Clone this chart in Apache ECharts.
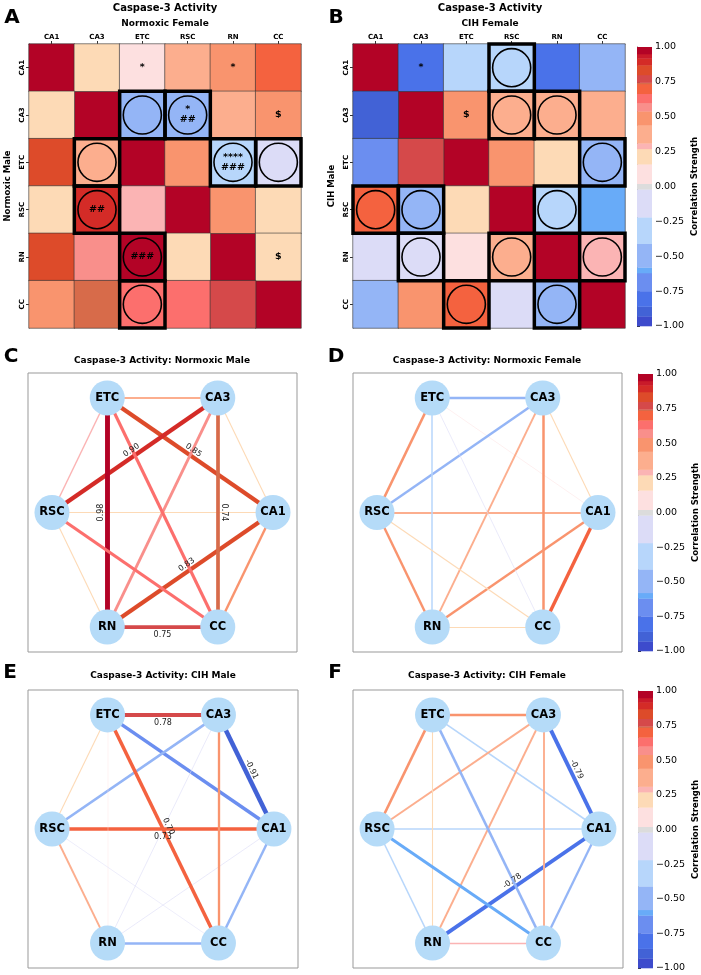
<!DOCTYPE html>
<html><head><meta charset="utf-8">
<script src="https://cdn.jsdelivr.net/npm/echarts@6/dist/echarts.min.js"></script>
<style>html,body{margin:0;padding:0;background:#fff}#c{width:701px;height:975px}</style>
</head><body><div id="c"></div>
<script>
// ---------------- DATA ----------------
const regions = ['CA1', 'CA3', 'ETC', 'RSC', 'RN', 'CC'];
const pairs = [
  ['CA1','CA3'], ['CA1','ETC'], ['CA1','RSC'], ['CA1','RN'], ['CA1','CC'],
  ['CA3','ETC'], ['CA3','RSC'], ['CA3','RN'], ['CA3','CC'],
  ['ETC','RSC'], ['ETC','RN'], ['ETC','CC'],
  ['RSC','RN'], ['RSC','CC'],
  ['RN','CC']
];
const normoxicMale   = [0.22, 0.85, 0.20, 0.83, 0.48, 0.36, 0.90, 0.57, 0.74, 0.29, 0.98, 0.62, 0.22, 0.63, 0.75];
const normoxicFemale = [0.22, 0.10, 0.36, 0.48, 0.68, -0.48, -0.48, 0.36, 0.50, 0.52, -0.30, -0.12, 0.48, 0.22, 0.22];
const cihMale        = [-0.91, -0.68, 0.73, -0.12, -0.48, 0.78, -0.53, -0.12, 0.47, 0.22, 0.08, 0.70, 0.38, -0.10, -0.53];
const cihFemale      = [-0.79, -0.32, -0.30, -0.78, -0.45, 0.47, 0.38, 0.40, 0.38, 0.52, 0.22, -0.50, -0.30, -0.60, 0.29];
const normoxicCircled = [['CA3','ETC'], ['CA3','RSC'], ['ETC','RN'], ['ETC','CC']];
const cihCircled      = [['CA1','RSC'], ['CA3','RSC'], ['CA3','RN'], ['ETC','CC'], ['RSC','RN'], ['RN','CC']];
const normoxicFemaleMarks = [['CA1','ETC','*'], ['CA1','RN','*'], ['CA3','RSC','*\n##'], ['CA3','CC','$'], ['ETC','RN','****\n###'], ['RN','CC','$']];
const normoxicMaleMarks   = [['CA3','RSC','##'], ['ETC','RN','###']];
const cihFemaleMarks      = [['CA1','CA3','*'], ['CA3','ETC','$']];
const cihMaleMarks        = [];
const colorbarTicks = [-1, -0.75, -0.5, -0.25, 0, 0.25, 0.5, 0.75, 1];
const labelThreshold = 0.7;

// ---------------- STYLE ----------------
const FONT = 'DejaVu Sans';
const cmap = [
  [-1.01, -0.93, '#3d4bcc'],
  [-0.93, -0.86, '#4262d6'],
  [-0.86, -0.75, '#4a72e9'],
  [-0.75, -0.62, '#6b8ef0'],
  [-0.62, -0.58, '#68abf8'],
  [-0.58, -0.41, '#94b5f6'],
  [-0.41, -0.22, '#b7d6fb'],
  [-0.22, -0.02, '#dcdcf7'],
  [-0.02, 0.02, '#dcdcdc'],
  [0.02, 0.16, '#fde0e0'],
  [0.16, 0.27, '#fddab6'],
  [0.27, 0.31, '#fbb4b4'],
  [0.31, 0.44, '#fcae8e'],
  [0.44, 0.54, '#f9946e'],
  [0.54, 0.60, '#f98f8b'],
  [0.60, 0.665, '#fc6f6d'],
  [0.665, 0.735, '#f4623f'],
  [0.735, 0.745, '#d76b4a'],
  [0.745, 0.80, '#d5494a'],
  [0.80, 0.87, '#dd4b2a'],
  [0.87, 0.92, '#d42b27'],
  [0.92, 0.95, '#c91a2a'],
  [0.95, 1.01, '#b30326']
];
function colorOf(v) {
  for (const [lo, hi, c] of cmap) if (v >= lo && v < hi) return c;
  return cmap[cmap.length - 1][2];
}
const idx = r => regions.indexOf(r);
const nodeAngle = i => i * Math.PI / 3;

const L = {
  heatA: {left: 29, top: 44, width: 272, height: 284},
  heatB: {left: 353, top: 44, width: 272, height: 284},
  cbB:   {left: 637, top: 47, width: 15, height: 279},
  netC:  {left: 28, top: 373, width: 269, height: 279},
  netD:  {left: 353, top: 373, width: 269, height: 279},
  cbD:   {left: 638, top: 374, width: 15, height: 277},
  netE:  {left: 28, top: 690, width: 270, height: 278},
  netF:  {left: 353, top: 690, width: 270, height: 278},
  cbF:   {left: 638, top: 691, width: 15, height: 277}
};

// ---------------- BUILD ----------------
function heatData(upperVals, lowerVals) {
  const d = regions.map((r, i) => [i, i, 1]);
  pairs.forEach((p, k) => {
    const i = idx(p[0]), j = idx(p[1]);
    d.push([j, i, upperVals[k]]);
    d.push([i, j, lowerVals[k]]);
  });
  return d;
}
function overlayItems(circled, upperMarks, lowerMarks) {
  const m = {};
  const key = (x, y) => x + ',' + y;
  const get = (x, y) => (m[key(x, y)] = m[key(x, y)] || {x, y, circled: false, text: ''});
  circled.forEach(([a, b]) => { const i = idx(a), j = idx(b); get(j, i).circled = true; get(i, j).circled = true; });
  upperMarks.forEach(([a, b, t]) => { get(idx(b), idx(a)).text = t; });
  lowerMarks.forEach(([a, b, t]) => { get(idx(a), idx(b)).text = t; });
  return Object.values(m);
}
function overlaySeries(items, gi) {
  return {
    type: 'custom', xAxisIndex: gi, yAxisIndex: gi, z: 5, silent: true,
    data: items.map(it => [it.x, it.y]),
    renderItem: function (params, api) {
      const it = items[params.dataIndex];
      const c = api.coord([api.value(0), api.value(1)]);
      const s = api.size([1, 1]);
      const ch = [];
      if (it.circled) {
        ch.push({type: 'rect', shape: {x: c[0] - s[0] / 2, y: c[1] - s[1] / 2, width: s[0], height: s[1]},
          style: {fill: null, stroke: '#000', lineWidth: 3.5}});
        ch.push({type: 'circle', shape: {cx: c[0], cy: c[1], r: Math.min(s[0], s[1]) * 0.42},
          style: {fill: null, stroke: '#000', lineWidth: 1.6}});
      }
      if (it.text) {
        ch.push({type: 'text', x: c[0], y: c[1], style: {text: it.text, fill: '#000',
          fontFamily: FONT, fontWeight: 'bold', fontSize: 9.5, lineHeight: 10, align: 'center', verticalAlign: 'middle'}});
      }
      return {type: 'group', children: ch};
    }
  };
}
function colorbarSeries(gi) {
  return {
    type: 'custom', xAxisIndex: gi, yAxisIndex: gi, silent: true,
    data: cmap.map(p => [Math.max(-1, p[0]), Math.min(1, p[1])]),
    encode: {x: -1, y: [0, 1]},
    renderItem: function (params, api) {
      const p = cmap[params.dataIndex];
      const lo = Math.max(-1, p[0]), hi = Math.min(1, p[1]);
      const a = api.coord([0, hi]), b = api.coord([1, lo]);
      return {type: 'rect', shape: {x: a[0], y: a[1], width: b[0] - a[0], height: b[1] - a[1] + 0.3},
        style: {fill: p[2]}};
    }
  };
}
function networkSeries(vals, gi) {
  return {
    type: 'graph', layout: 'none', coordinateSystem: 'cartesian2d', xAxisIndex: gi, yAxisIndex: gi,
    silent: true, symbolSize: 35, z: 3,
    itemStyle: {color: '#b5dbf8'},
    label: {show: true, position: 'inside', fontFamily: FONT, fontWeight: 'bold', fontSize: 11.5, color: '#000'},
    edgeLabel: {show: false, fontFamily: FONT, fontSize: 8, color: '#222', distance: 2,
      formatter: p => p.data.value.toFixed(2)},
    data: regions.map((r, i) => ({name: r, value: [Math.cos(nodeAngle(i)), Math.sin(nodeAngle(i))]})),
    links: pairs.map((p, k) => {
      const horizontal = Math.abs(Math.sin(nodeAngle(idx(p[0]))) - Math.sin(nodeAngle(idx(p[1])))) < 1e-6;
      return {
        source: p[0], target: p[1], value: vals[k],
        lineStyle: {color: colorOf(vals[k]), width: Math.abs(vals[k]) * 5, opacity: 1, curveness: 0},
        label: {show: Math.abs(vals[k]) >= labelThreshold, position: horizontal ? 'insideMiddleBottom' : 'middle',
          distance: horizontal ? 4 : 2}
      };
    })
  };
}

const grids = [L.heatA, L.heatB, L.cbB, L.netC, L.netD, L.cbD, L.netE, L.netF, L.cbF];
const xAxes = [], yAxes = [];
function heatAxes(yName) {
  xAxes.push({type: 'category', gridIndex: xAxes.length, data: regions, position: 'top',
    axisLine: {show: true, lineStyle: {color: '#888'}},
    axisTick: {show: true, length: 3, alignWithLabel: true, lineStyle: {color: '#333'}},
    axisLabel: {fontFamily: FONT, fontSize: 7, fontWeight: 'bold', color: '#000', margin: 3},
    splitLine: {show: false}});
  yAxes.push({type: 'category', gridIndex: yAxes.length, data: regions, inverse: true,
    axisLine: {show: true, lineStyle: {color: '#888'}},
    axisTick: {show: true, length: 3, alignWithLabel: true, lineStyle: {color: '#333'}},
    axisLabel: {fontFamily: FONT, fontSize: 7, fontWeight: 'bold', color: '#000', margin: 3, rotate: 90},
    name: yName, nameLocation: 'middle', nameRotate: 90, nameGap: 17,
    nameTextStyle: {fontFamily: FONT, fontWeight: 'bold', fontSize: 8.5, color: '#000'},
    splitLine: {show: false}});
}
function cbAxes() {
  xAxes.push({type: 'value', gridIndex: xAxes.length, min: 0, max: 1, show: false});
  yAxes.push({type: 'value', gridIndex: yAxes.length, min: colorbarTicks[0], max: colorbarTicks[colorbarTicks.length - 1],
    interval: colorbarTicks[1] - colorbarTicks[0], position: 'right',
    axisLine: {show: true, lineStyle: {color: '#666'}},
    axisTick: {show: true, length: 3, lineStyle: {color: '#333'}},
    axisLabel: {fontFamily: FONT, fontSize: 9.5, color: '#000', margin: 3,
      formatter: v => (v < 0 ? '\u2212' : '') + Math.abs(v).toFixed(2)},
    splitLine: {show: false},
    name: 'Correlation Strength', nameLocation: 'middle', nameRotate: 90, nameGap: 38,
    nameTextStyle: {fontFamily: FONT, fontWeight: 'bold', fontSize: 8.5, color: '#000'}});
}
function netAxes() {
  xAxes.push({type: 'value', gridIndex: xAxes.length, min: -1.217, max: 1.217, show: false});
  yAxes.push({type: 'value', gridIndex: yAxes.length, min: -1.055, max: 1.055, show: false});
}
heatAxes('Normoxic Male'); heatAxes('CIH Male'); cbAxes(); netAxes(); netAxes(); cbAxes(); netAxes(); netAxes(); cbAxes();

const series = [
  {type: 'heatmap', xAxisIndex: 0, yAxisIndex: 0, data: heatData(normoxicFemale, normoxicMale),
    itemStyle: {borderColor: '#333', borderWidth: 0.6}, silent: true},
  overlaySeries(overlayItems(normoxicCircled, normoxicFemaleMarks, normoxicMaleMarks), 0),
  {type: 'heatmap', xAxisIndex: 1, yAxisIndex: 1, data: heatData(cihFemale, cihMale),
    itemStyle: {borderColor: '#333', borderWidth: 0.6}, silent: true},
  overlaySeries(overlayItems(cihCircled, cihFemaleMarks, cihMaleMarks), 1),
  colorbarSeries(2),
  networkSeries(normoxicMale, 3),
  networkSeries(normoxicFemale, 4),
  colorbarSeries(5),
  networkSeries(cihMale, 6),
  networkSeries(cihFemale, 7),
  colorbarSeries(8)
];

function txt(x, y, text, size, weight) {
  return {type: 'text', x, y, silent: true,
    style: {text, fontFamily: FONT, fontSize: size, fontWeight: weight || 'bold', fill: '#000',
      align: 'center', verticalAlign: 'middle'}};
}
const graphics = [
  txt(165, 8, 'Caspase-3 Activity', 10), txt(165, 24, 'Normoxic Female', 9), txt(12, 18, 'A', 20),
  txt(490, 8, 'Caspase-3 Activity', 10), txt(490, 24, 'CIH Female', 9), txt(336, 18, 'B', 20),
  txt(162, 361, 'Caspase-3 Activity: Normoxic Male', 9), txt(11, 357, 'C', 20),
  txt(487, 361, 'Caspase-3 Activity: Normoxic Female', 9), txt(336, 357, 'D', 20),
  txt(163, 676, 'Caspase-3 Activity: CIH Male', 9), txt(10, 673, 'E', 20),
  txt(487, 676, 'Caspase-3 Activity: CIH Female', 9), txt(335, 673, 'F', 20)
];

const chart = echarts.init(document.getElementById('c'), null, {renderer: 'canvas'});
chart.setOption({
  animation: false,
  backgroundColor: '#fff',
  textStyle: {fontFamily: FONT},
  grid: grids.map((g, i) => Object.assign({show: [3, 4, 6, 7].includes(i), borderColor: '#999', borderWidth: 1,
    backgroundColor: 'transparent', containLabel: false}, g)),
  xAxis: xAxes,
  yAxis: yAxes,
  visualMap: {type: 'piecewise', show: false, seriesIndex: [0, 2], dimension: 2,
    pieces: cmap.map(([lo, hi, c]) => ({gte: lo, lt: hi, color: c}))},
  series,
  graphic: graphics
});
</script></body></html>
